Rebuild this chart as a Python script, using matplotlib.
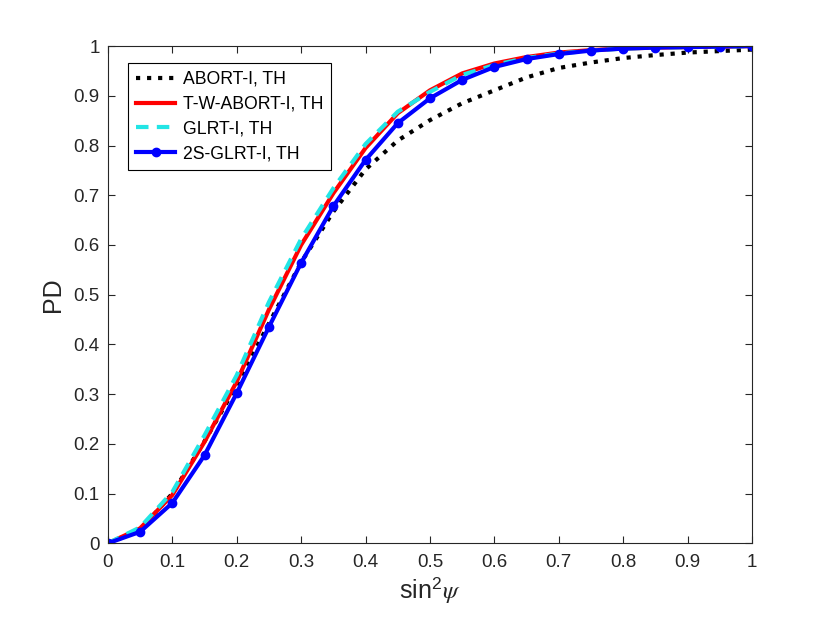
import matplotlib
matplotlib.use('Agg')
import matplotlib.pyplot as plt
import numpy as np

plt.rcParams['font.family'] = ['Liberation Sans', 'DejaVu Sans']
plt.rcParams['mathtext.fontset'] = 'custom'
plt.rcParams['mathtext.rm'] = 'Liberation Sans'
plt.rcParams['mathtext.it'] = 'STIXGeneral:italic'

# sin^2(psi) grid
x = [0.0, 0.05, 0.1, 0.15, 0.2, 0.25, 0.3, 0.35, 0.4, 0.45, 0.5,
     0.55, 0.6, 0.65, 0.7, 0.75, 0.8, 0.85, 0.9, 0.95, 1.0]

# detection probabilities
pd_abort = [0.0, 0.026, 0.100, 0.205, 0.318, 0.442, 0.565, 0.667, 0.752, 0.810,
            0.851, 0.885, 0.911, 0.937, 0.956, 0.967, 0.976, 0.982, 0.987, 0.990, 0.993]
pd_twabort = [0.0, 0.030, 0.097, 0.204, 0.325, 0.470, 0.600, 0.704, 0.795, 0.865,
              0.911, 0.945, 0.965, 0.978, 0.987, 0.992, 0.995, 0.997, 0.998, 0.999, 1.0]
pd_glrt = [0.0, 0.032, 0.103, 0.217, 0.338, 0.485, 0.612, 0.714, 0.803, 0.868,
           0.908, 0.942, 0.962, 0.976, 0.985, 0.991, 0.995, 0.997, 0.998, 0.999, 1.0]
pd_2sglrt = [0.0, 0.023, 0.081, 0.177, 0.302, 0.435, 0.564, 0.678, 0.771, 0.845,
             0.895, 0.932, 0.958, 0.974, 0.984, 0.991, 0.995, 0.997, 0.998, 0.999, 1.0]

labels = ['ABORT-I, TH', 'T-W-ABORT-I, TH', 'GLRT-I, TH', '2S-GLRT-I, TH']
ticklabels = ['0', '0.1', '0.2', '0.3', '0.4', '0.5', '0.6', '0.7', '0.8', '0.9', '1']

fig = plt.figure(figsize=(8.3, 6.23), dpi=100)
ax = fig.add_axes([0.130, 0.128, 0.776, 0.798])

ax.plot(x, pd_abort, ':', color='black', lw=3, label=labels[0])
ax.plot(x, pd_twabort, '-', color='#ff0000', lw=3, label=labels[1])
ax.plot(x, pd_glrt, '--', color='#22e5e5', lw=3, dashes=(3, 2), label=labels[2])
ax.plot(x, pd_2sglrt, '-o', color='#0000ff', lw=3, ms=6, label=labels[3])

ax.set_xlim(0, 1)
ax.set_ylim(0, 1)
ax.set_xticks(np.arange(0, 1.01, 0.1))
ax.set_yticks(np.arange(0, 1.01, 0.1))
ax.set_xticklabels(ticklabels)
ax.set_yticklabels(ticklabels)
ax.tick_params(direction='in', top=True, right=True, length=5, width=0.8,
               labelsize=13.5, colors='#262626')
ax.tick_params(axis='x', pad=8)
ax.tick_params(axis='y', pad=6)
for s in ax.spines.values():
    s.set_color('#262626')
    s.set_linewidth(0.8)

ax.set_xlabel(r'sin$^{2}\psi$', fontsize=18, color='#262626', labelpad=3)
ax.set_ylabel('PD', fontsize=18, color='#262626', labelpad=6)

leg = ax.legend(loc='upper left', bbox_to_anchor=(0.031, 0.966), fontsize=12.7,
                fancybox=False, framealpha=1, edgecolor='black', handlelength=2.25,
                handletextpad=0.4, borderaxespad=0, labelspacing=0.44, borderpad=0.45)
leg.get_frame().set_linewidth(0.8)

fig.savefig('out.png', dpi=100)
